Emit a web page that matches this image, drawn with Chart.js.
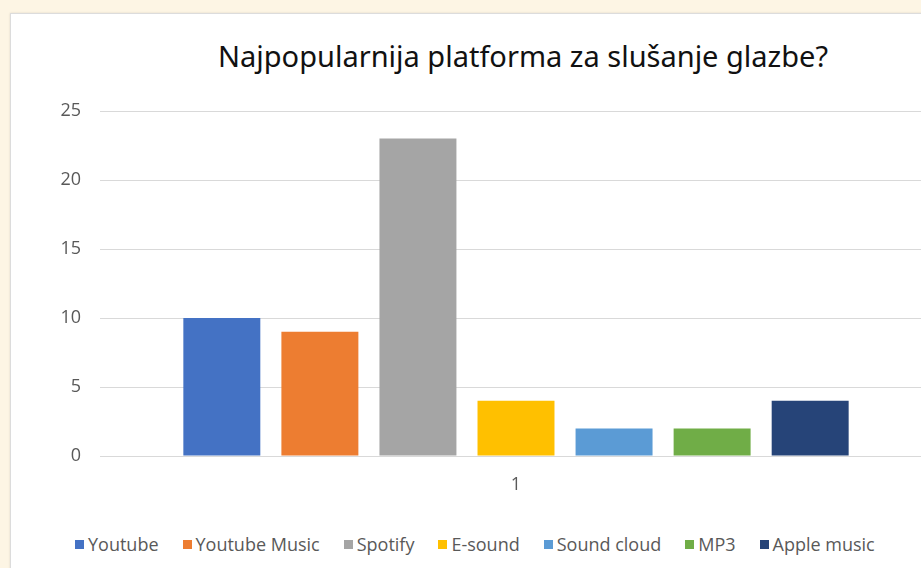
<!DOCTYPE html>
<html>
<head>
<meta charset="utf-8">
<script src="https://cdn.jsdelivr.net/npm/chart.js@4"></script>
<style>
  html, body { margin: 0; padding: 0; }
  body {
    width: 921px; height: 568px; overflow: hidden;
    background: #fdf5e4; position: relative;
  }
  #panel {
    position: absolute; left: 10px; top: 13px; width: 960px; height: 600px;
    background: #fff; border: 1px solid #dcdcdc;
    box-shadow: 0 0 2px rgba(0,0,0,0.12);
  }
  #title {
    position: absolute; left: 0; width: 1046px; top: 36px;
    text-align: center; font: 29px "Noto Sans", sans-serif; color: #111;
  }
  #chart { position: absolute; left: 10px; top: 14px; }
  #legend {
    position: absolute; left: 75px; top: 532px;
    display: flex; gap: 24px; font: 18px "Open Sans", sans-serif; color: #595959;
  }
  #legend span.item { display: flex; align-items: center; white-space: nowrap; }
  #legend span.box { width: 9px; height: 9px; margin-right: 4px; display: inline-block; }
</style>
</head>
<body>
<div id="panel"></div>
<div id="title">Najpopularnija platforma za slušanje glazbe?</div>
<canvas id="chart" width="940" height="500"></canvas>
<div id="legend"></div>
<script>
const categories = ["1"]
const platforms = ["Youtube", "Youtube Music", "Spotify", "E-sound", "Sound cloud", "MP3", "Apple music"]
const votes = [10, 9, 23, 4, 2, 2, 4]
const colors = ["#4472c4", "#ed7d31", "#a5a5a5", "#ffc000", "#5b9bd5", "#70ad47", "#264478"]
const yTicks = [0, 5, 10, 15, 20, 25]

const tickFont = {family: "Open Sans", size: 18}

const chart = new Chart(document.getElementById("chart").getContext("2d"), {
  type: "bar",
  data: {
    labels: categories,
    datasets: platforms.map((name, i) => ({
      label: name,
      data: [votes[i]],
      backgroundColor: colors[i],
      categoryPercentage: 0.825,
      barPercentage: 0.785,
    })),
  },
  options: {
    responsive: false,
    animation: false,
    layout: {padding: {top: 97, right: 18}},
    plugins: {
      legend: {display: false},
      title: {display: false},
      tooltip: {enabled: false},
    },
    scales: {
      x: {
        grid: {display: false, drawTicks: false},
        border: {display: false},
        ticks: {color: "#595959", font: tickFont, padding: 18},
        afterFit: (scale) => { scale.height = 58 },
      },
      y: {
        min: yTicks[0],
        max: yTicks[yTicks.length - 1],
        ticks: {stepSize: 5, color: "#595959", font: tickFont, padding: 19},
        grid: {color: "#d9d9d9", lineWidth: 1, drawTicks: false},
        border: {display: false},
        afterFit: (scale) => { scale.width = 90 },
      },
    },
  },
})

// html legend built from the datasets
const legendEl = document.getElementById("legend")
for (const ds of chart.data.datasets) {
  const item = document.createElement("span")
  item.className = "item"
  const box = document.createElement("span")
  box.className = "box"
  box.style.background = ds.backgroundColor
  item.appendChild(box)
  item.appendChild(document.createTextNode(ds.label))
  legendEl.appendChild(item)
}
</script>
</body>
</html>
